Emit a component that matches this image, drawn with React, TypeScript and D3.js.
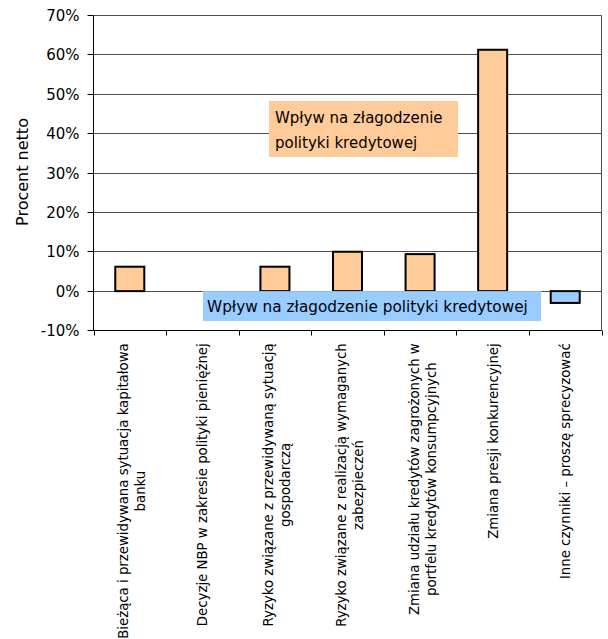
import React, { useEffect, useRef } from "react";
import * as d3 from "d3";

// Category labels (each entry is a list of wrapped lines)
const categories: string[][] = [
  ["Bieżąca i przewidywana sytuacja kapitałowa", "banku"],
  ["Decyzje NBP w zakresie polityki pieniężnej"],
  ["Ryzyko związane z przewidywaną sytuacją", "gospodarczą"],
  ["Ryzyko związane z realizacją wymaganych", "zabezpieczeń"],
  ["Zmiana udziału kredytów zagrożonych w", "portfelu kredytów konsumpcyjnych"],
  ["Zmiana presji konkurencyjnej"],
  ["Inne czynniki – proszę sprecyzować"],
];

// Net percentage per factor
const netPercent: number[] = [6.2, 0, 6.2, 10.0, 9.4, 61.3, -3.0];

const yTicks: number[] = [-10, 0, 10, 20, 30, 40, 50, 60, 70];
const yAxisTitle = "Procent netto";
const easingNote: string[] = ["Wpływ na złagodzenie", "polityki kredytowej"];
const lowerNote = "Wpływ na złagodzenie polityki kredytowej";

const FONT = "'DejaVu Sans', Verdana, sans-serif";
const ORANGE = "#FFCC99";
const BLUE = "#99CCFF";
const GRID = "#4d4d4d";

export default function App() {
  const ref = useRef<SVGSVGElement>(null);

  useEffect(() => {
    const svg = d3.select(ref.current);
    svg.selectAll("*").remove();

    const left = 93.5;
    const right = 601.5;
    const top = 15.5;
    const bottom = 330.5;

    const x = d3
      .scaleBand<number>()
      .domain(d3.range(categories.length))
      .range([left, right])
      .padding(0);
    const y = d3.scaleLinear().domain([-10, 70]).range([bottom, top]);
    const crisp = (v: number) => Math.floor(y(v)) + 0.5;
    const bw = x.bandwidth();

    // horizontal gridlines
    svg
      .append("g")
      .selectAll("line")
      .data(yTicks.filter((t) => t > -10))
      .join("line")
      .attr("x1", left)
      .attr("x2", right)
      .attr("y1", (d) => crisp(d))
      .attr("y2", (d) => crisp(d))
      .attr("stroke", GRID)
      .attr("stroke-width", 1);

    // right border of plot
    svg
      .append("line")
      .attr("x1", right)
      .attr("x2", right)
      .attr("y1", top)
      .attr("y2", bottom)
      .attr("stroke", GRID);

    // bars
    svg
      .append("g")
      .selectAll("rect")
      .data(netPercent.map((v, i) => ({ v, i })).filter((d) => d.v !== 0))
      .join("rect")
      .attr("x", (d) => (x(d.i) as number) + bw * 0.3)
      .attr("width", bw * 0.4)
      .attr("y", (d) => y(Math.max(d.v, 0)))
      .attr("height", (d) => Math.abs(y(d.v) - y(0)))
      .attr("fill", (d) => (d.v >= 0 ? ORANGE : BLUE))
      .attr("stroke", "#000")
      .attr("stroke-width", 2);

    // y axis
    svg
      .append("line")
      .attr("x1", left)
      .attr("x2", left)
      .attr("y1", top)
      .attr("y2", bottom)
      .attr("stroke", "#000");
    const yt = svg.append("g");
    yt.selectAll("line")
      .data(yTicks)
      .join("line")
      .attr("x1", left - 6)
      .attr("x2", left)
      .attr("y1", (d) => crisp(d))
      .attr("y2", (d) => crisp(d))
      .attr("stroke", "#000");
    yt.selectAll("text")
      .data(yTicks)
      .join("text")
      .attr("x", 79.5)
      .attr("y", (d) => y(d) + 5.5)
      .attr("text-anchor", "end")
      .attr("font-family", FONT)
      .attr("font-size", 15)
      .attr("fill", "#000")
      .text((d) => `${d}%`);

    svg
      .append("text")
      .attr("transform", `translate(28,172) rotate(-90)`)
      .attr("text-anchor", "middle")
      .attr("font-family", FONT)
      .attr("font-size", 16)
      .text(yAxisTitle);

    // x axis
    svg
      .append("line")
      .attr("x1", left)
      .attr("x2", right)
      .attr("y1", bottom)
      .attr("y2", bottom)
      .attr("stroke", "#000");
    svg
      .append("g")
      .selectAll("line")
      .data(d3.range(categories.length + 1))
      .join("line")
      .attr("x1", (i) => Math.round(left + i * bw) + 0.5)
      .attr("x2", (i) => Math.round(left + i * bw) + 0.5)
      .attr("y1", bottom)
      .attr("y2", bottom + 5)
      .attr("stroke", "#000");

    // rotated category labels
    const lineGap = 17;
    categories.forEach((lines, i) => {
      const c = (x(i) as number) + bw / 2;
      const g = svg.append("g");
      const texts = lines.map((ln) =>
        g
          .append("text")
          .attr("text-anchor", "middle")
          .attr("font-family", FONT)
          .attr("font-size", 13.3)
          .attr("fill", "#000")
          .text(ln)
      );
      const maxW = d3.max(texts, (t) => (t.node() as SVGTextElement).getComputedTextLength()) || 0;
      const cy = 343.3 + maxW / 2;
      const first = c + 5 - (lines.length - 1) * 6.5;
      texts.forEach((t, j) => {
        t.attr("transform", `translate(${first + j * lineGap},${cy}) rotate(-90)`);
      });
    });

    // annotation boxes
    const upper = svg.append("g");
    upper
      .append("rect")
      .attr("x", 269)
      .attr("y", 101)
      .attr("width", 189)
      .attr("height", 56)
      .attr("fill", ORANGE);
    easingNote.forEach((ln, j) => {
      upper
        .append("text")
        .attr("x", 275)
        .attr("y", 123.3 + j * 25)
        .attr("font-family", FONT)
        .attr("font-size", 15)
        .text(ln);
    });

    const lower = svg.append("g");
    lower
      .append("rect")
      .attr("x", 203)
      .attr("y", y(0))
      .attr("width", 338)
      .attr("height", 30)
      .attr("fill", BLUE);
    lower
      .append("text")
      .attr("x", 207)
      .attr("y", 312)
      .attr("font-family", FONT)
      .attr("font-size", 15.3)
      .text(lowerNote);
  }, []);

  return (
    <svg
      ref={ref}
      width={608}
      height={639}
      style={{ position: "absolute", left: 0, top: 0, background: "#fff" }}
    />
  );
}
